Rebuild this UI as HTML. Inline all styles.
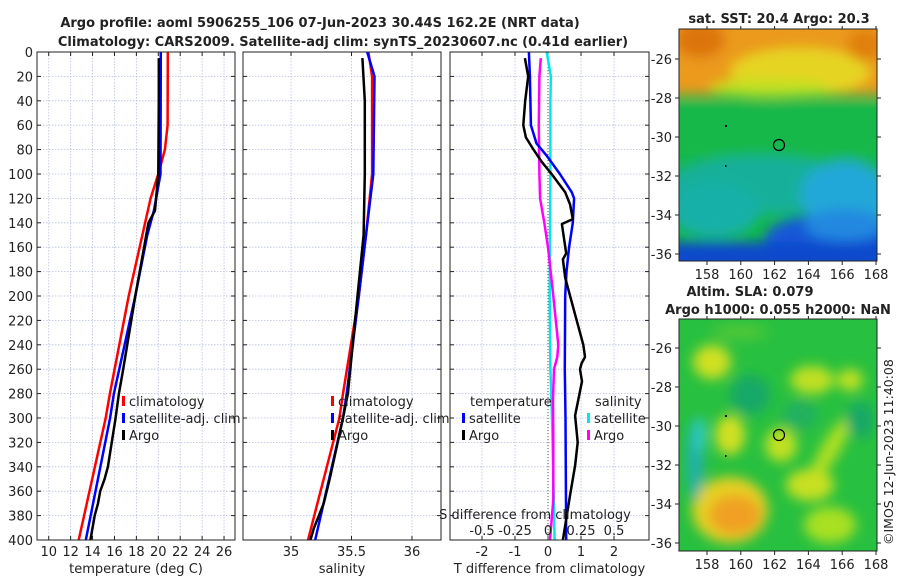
<!DOCTYPE html>
<html><head><meta charset="utf-8"><style>
body{margin:0;background:#fff;width:900px;height:580px;overflow:hidden;font-family:"DejaVu Sans","Liberation Sans",sans-serif;}
svg text{font-family:"DejaVu Sans","Liberation Sans",sans-serif;fill:#222;}
</style></head><body>
<svg id="fig" width="900" height="580" xmlns="http://www.w3.org/2000/svg">
<defs>
<filter id="blur1" x="-20%" y="-20%" width="140%" height="140%"><feGaussianBlur stdDeviation="6"/></filter>
<filter id="blur2" x="-20%" y="-20%" width="140%" height="140%"><feGaussianBlur stdDeviation="6"/></filter>
<clipPath id="c1"><rect x="679" y="29" width="198" height="232"/></clipPath>
<clipPath id="c2"><rect x="679" y="319" width="198" height="232"/></clipPath>
</defs>
<text x="320" y="27" font-size="13" font-weight="bold" text-anchor="middle" fill="#000">Argo profile: aoml 5906255_106 07-Jun-2023 30.44S 162.2E (NRT data)</text>
<text x="343" y="46" font-size="13" font-weight="bold" text-anchor="middle" fill="#000">Climatology: CARS2009. Satellite-adj clim: synTS_20230607.nc (0.41d earlier)</text>

<!-- map 1 -->
<g clip-path="url(#c1)">
<rect x="679" y="29" width="198" height="232" fill="#14b848"/>
<g filter="url(#blur1)">
<rect x="660" y="10" width="240" height="85" fill="#eb9a1c"/>
<ellipse cx="800" cy="72" rx="70" ry="24" fill="#e6d424"/>
<ellipse cx="770" cy="88" rx="60" ry="9" fill="#c0e020"/>
<ellipse cx="700" cy="40" rx="25" ry="18" fill="#dd7410"/>
<ellipse cx="865" cy="45" rx="18" ry="16" fill="#e08010"/>
<rect x="660" y="102" width="240" height="55" fill="#14b848"/>
<ellipse cx="760" cy="185" rx="95" ry="30" fill="#18b09a"/>
<ellipse cx="715" cy="210" rx="45" ry="28" fill="#18b0a8"/>
<ellipse cx="845" cy="195" rx="45" ry="35" fill="#20a8d8"/>
<ellipse cx="830" cy="238" rx="65" ry="24" fill="#1858d8"/>
<rect x="660" y="242" width="240" height="30" fill="#1048cc"/>
<ellipse cx="845" cy="225" rx="40" ry="16" fill="#2088e0"/>
</g>
<circle cx="779" cy="145" r="5.5" fill="none" stroke="#000" stroke-width="1.2"/>
<rect x="725" y="125" width="2" height="2" fill="#000"/><rect x="725" y="165" width="1.5" height="2" fill="#000"/>
</g>
<rect x="679" y="29" width="198" height="232" fill="none" stroke="#222" stroke-width="1"/>
<text x="779" y="23" font-size="13" font-weight="bold" text-anchor="middle" fill="#000">sat. SST: 20.4 Argo: 20.3</text>

<!-- map 2 -->
<g clip-path="url(#c2)">
<rect x="679" y="319" width="198" height="232" fill="#28c040"/>
<g filter="url(#blur2)">
<ellipse cx="712" cy="362" rx="19" ry="17" fill="#d0e020"/>
<ellipse cx="740" cy="332" rx="28" ry="8" fill="#50c838"/>
<ellipse cx="730" cy="435" rx="15" ry="20" fill="#d0e020"/>
<ellipse cx="781" cy="445" rx="16" ry="17" fill="#c0e020"/>
<ellipse cx="812" cy="380" rx="22" ry="14" fill="#c0e020"/>
<ellipse cx="850" cy="380" rx="13" ry="11" fill="#c0e020"/>
<ellipse cx="830" cy="450" rx="9" ry="38" fill="#b0e020" transform="rotate(30 830 450)"/>
<ellipse cx="810" cy="485" rx="24" ry="16" fill="#c8e020"/>
<ellipse cx="730" cy="510" rx="38" ry="33" fill="#e6d020"/>
<ellipse cx="735" cy="515" rx="26" ry="20" fill="#f0a020"/>
<ellipse cx="695" cy="460" rx="8" ry="40" fill="#20b0b0"/>
<ellipse cx="700" cy="435" rx="5" ry="18" fill="#30d0d0"/>
<ellipse cx="750" cy="395" rx="20" ry="20" fill="#18a868"/>
<ellipse cx="800" cy="415" rx="18" ry="14" fill="#20b060"/>
<ellipse cx="830" cy="525" rx="26" ry="18" fill="#a8e020"/>
<ellipse cx="860" cy="420" rx="14" ry="18" fill="#18a868"/>
</g>
<circle cx="779" cy="435" r="5.5" fill="none" stroke="#000" stroke-width="1.2"/>
<rect x="725" y="415" width="2" height="2" fill="#000"/><rect x="725" y="455" width="1.5" height="2" fill="#000"/>
</g>
<rect x="679" y="319" width="198" height="232" fill="none" stroke="#222" stroke-width="1"/>
<text x="750" y="296" font-size="13" font-weight="bold" text-anchor="middle" fill="#000">Altim. SLA: 0.079</text>
<text x="778" y="314" font-size="13" font-weight="bold" text-anchor="middle" fill="#000">Argo h1000: 0.055 h2000: NaN</text>
<text font-size="12.5" transform="translate(893,545) rotate(-90)">©IMOS 12-Jun-2023 11:40:08</text>

<g id="plots"></g>
</svg>
<script>
// ---- data ----
var tempDepths = [0, 60, 80, 100, 120, 200, 280, 300, 400];
var tempClim   = [20.87, 20.85, 20.6, 20.0, 19.3, 17.3, 15.58, 15.2, 12.74];
var tempSatDepths = [0, 100, 130, 150, 200, 280, 300, 400];
var tempSat    = [20.23, 20.2, 19.6, 19.0, 17.9, 15.95, 15.6, 13.38];
var argoDepths = [5, 40, 100, 130, 140, 160, 200, 260, 280, 300, 340, 350, 360, 370, 380, 400];
var argoTemp   = [20.05, 20.05, 20.0, 19.7, 19.1, 18.7, 17.9, 16.8, 16.4, 16.1, 15.4, 15.1, 14.7, 14.5, 14.2, 13.8];
var salClimDepths = [0, 20, 100, 150, 200, 280, 300, 400];
var salClim    = [35.64, 35.67, 35.67, 35.62, 35.56, 35.43, 35.40, 35.14];
var salSat     = [35.63, 35.69, 35.68, 35.62, 35.56, 35.46, 35.43, 35.20];
var argoSalDepths = [5, 40, 100, 150, 200, 280, 300, 350, 370, 390, 400];
var argoSal    = [35.59, 35.61, 35.61, 35.60, 35.55, 35.47, 35.43, 35.32, 35.27, 35.19, 35.16];
var dTSatDepths = [0, 20, 60, 75, 85, 100, 115, 120, 140, 160, 180, 200, 260, 300, 400];
var dTSat      = [-0.58, -0.55, -0.52, -0.35, -0.04, 0.36, 0.72, 0.79, 0.75, 0.64, 0.56, 0.52, 0.51, 0.53, 0.55];
var dTArgoDepths = [5, 20, 40, 60, 70, 80, 90, 100, 115, 125, 137, 141, 150, 165, 170, 185, 200, 220, 240, 250, 255, 260, 270, 298, 320, 339, 363, 388, 400];
var dTArgo     = [-0.7, -0.6, -0.69, -0.75, -0.67, -0.44, -0.19, 0.11, 0.52, 0.67, 0.75, 0.42, 0.47, 0.55, 0.45, 0.52, 0.67, 0.87, 1.07, 1.12, 1.02, 0.97, 1.03, 0.82, 0.9, 0.82, 0.67, 0.52, 0.45];
var dSArgoDepths = [5, 20, 60, 100, 120, 140, 160, 200, 240, 250, 260, 285, 320, 367, 400];
var dSArgo     = [-0.055, -0.065, -0.07, -0.065, -0.06, -0.028, 0.0, 0.04, 0.078, 0.07, 0.045, 0.038, 0.04, 0.04, 0.015];
var dSSatDepths = [0, 20, 40, 100, 200, 260, 300, 400];
var dSSat      = [-0.01, 0.022, 0.018, 0.018, 0.013, 0.018, 0.03, 0.05];
var depthTicks = [0,20,40,60,80,100,120,140,160,180,200,220,240,260,280,300,320,340,360,380,400];
var tempTicks = [10,12,14,16,18,20,22,24,26];
var salTicks = [35, 35.5, 36];
var dTTicks = [-2,-1,0,1,2];
var dSTickLabels = ["-0.5","-0.25","0","0.25","0.5"];
var dSTicks = [-0.5,-0.25,0,0.25,0.5];

var NS = "http://www.w3.org/2000/svg";
var root = document.getElementById('plots');
var TOP = 52, BOT = 540;
function yD(d){ return TOP + d/400*(BOT-TOP); }
function mk(tag, attrs, parent){ var e=document.createElementNS(NS,tag); for(var k in attrs) e.setAttribute(k,attrs[k]); (parent||root).appendChild(e); return e; }
function lin(d0,d1,p0,p1){ return function(v){ return p0+(v-d0)/(d1-d0)*(p1-p0); }; }

var panels = [
 {x0:37,x1:235,sx:lin(8.93,27.0,37,235),ticks:tempTicks,label:"temperature (deg C)",name:"temperature-panel",dep:true},
 {x0:243,x1:441,sx:lin(34.603,36.24,243,441),ticks:salTicks,label:"salinity",name:"salinity-panel"},
 {x0:450,x1:649,sx:lin(-2.97,3.06,450,649),ticks:dTTicks,label:"T difference from climatology",name:"difference-panel"}
];
panels.forEach(function(p){
  var g = mk('g',{});
  
  
  depthTicks.forEach(function(d){
    var gl = mk('line',{x1:p.x0,x2:p.x1,y1:yD(d),y2:yD(d),stroke:'#b8c0e0','stroke-width':0.8,'stroke-dasharray':'1.5,1.5'},g);
    
    
    mk('line',{x1:p.x0,x2:p.x0+4,y1:yD(d),y2:yD(d),stroke:'#222'},g);
    mk('line',{x1:p.x1-4,x2:p.x1,y1:yD(d),y2:yD(d),stroke:'#222'},g);
    if(p.dep){
      var t = mk('text',{x:p.x0-4,y:yD(d)+5,'font-size':13,'text-anchor':'end'},g);
      
      
      t.textContent = d;
    }
  });
  p.ticks.forEach(function(v){
    var x = p.sx(v);
    mk('line',{x1:x,x2:x,y1:TOP,y2:BOT,stroke:'#b8c0e0','stroke-width':0.8,'stroke-dasharray':'1.5,1.5'},g);
    mk('line',{x1:x,x2:x,y1:BOT,y2:BOT-4,stroke:'#222'},g);
    mk('line',{x1:x,x2:x,y1:TOP,y2:TOP+4,stroke:'#222'},g);
    var t = mk('text',{x:x,y:556,'font-size':13,'text-anchor':'middle'},g);
    
    
    t.textContent = v;
  });
  var xl = mk('text',{x:(p.x0+p.x1)/2,y:573,'font-size':13,'text-anchor':'middle'},g);
  
  
  xl.textContent = p.label;
  p.g = g;
});
function line(xs, ds, sx, color, w, name){
  var pts = xs.map(function(v,i){ return sx(v).toFixed(1)+','+yD(ds[i]).toFixed(1); }).join(' ');
  var e = mk('polyline',{points:pts,fill:'none',stroke:color,'stroke-width':w,'stroke-linejoin':'round'});
  
  
}
var sT = panels[0].sx, sS = panels[1].sx, sD = panels[2].sx;
function sDS(v){ return sD(v*4); }
mk('line',{x1:sD(0),x2:sD(0),y1:TOP,y2:BOT,stroke:'#555','stroke-width':1,'stroke-dasharray':'1,2'});
line(tempClim, tempDepths, sT, '#f00', 2.5, 'temp-climatology-line');
line(tempSat, tempSatDepths, sT, '#00f', 2.5, 'temp-satellite-line');
line(argoTemp, argoDepths, sT, '#000', 2.5, 'temp-argo-line');
line(salClim, salClimDepths, sS, '#f00', 2.5, 'sal-climatology-line');
line(salSat, salClimDepths, sS, '#00f', 2.5, 'sal-satellite-line');
line(argoSal, argoSalDepths, sS, '#000', 2.5, 'sal-argo-line');
line(dSSat, dSSatDepths, sDS, '#00e8e8', 2.5, 'sdiff-satellite-line');
line(dSArgo, dSArgoDepths, sDS, '#f0f', 2.5, 'sdiff-argo-line');
line(dTSat, dTSatDepths, sD, '#00f', 2.5, 'tdiff-satellite-line');
line(dTArgo, dTArgoDepths, sD, '#000', 2.5, 'tdiff-argo-line');
panels.forEach(function(p){
  var r = mk('rect',{x:p.x0,y:TOP,width:p.x1-p.x0,height:BOT-TOP,fill:'none',stroke:'#222','stroke-width':1});
  
  
});
var sl = mk('text',{x:535,y:519,'font-size':13,'text-anchor':'middle'});


sl.textContent = 'S difference from climatology';
dSTicks.forEach(function(v,i){
  var t = mk('text',{x:sDS(v),y:535,'font-size':13,'text-anchor':'middle'});
  
  
  t.textContent = dSTickLabels[i];
});
function legend(x,y,color,label,name){
  var g = mk('g',{});
  
  
  mk('rect',{x:x,y:y-10,width:3,height:10,fill:color},g);
  var t = mk('text',{x:x+7,y:y,'font-size':13},g);
  t.textContent = label;
}
legend(122,406,'#f00','climatology','legend-temp-climatology');
legend(122,423,'#00f','satellite-adj. clim','legend-temp-satellite');
legend(122,440,'#000','Argo','legend-temp-argo');
legend(331,406,'#f00','climatology','legend-sal-climatology');
legend(331,423,'#00f','satellite-adj. clim','legend-sal-satellite');
legend(331,440,'#000','Argo','legend-sal-argo');
var lt = mk('text',{x:470,y:406,'font-size':13});   lt.textContent='temperature';
var ls = mk('text',{x:595,y:406,'font-size':13});   ls.textContent='salinity';
legend(462,423,'#00f','satellite','legend-tdiff-satellite');
legend(462,440,'#000','Argo','legend-tdiff-argo');
legend(587,423,'#00e8e8','satellite','legend-sdiff-satellite');
legend(587,440,'#f0f','Argo','legend-sdiff-argo');
var lons=[158,160,162,164,166,168], lats=[-26,-28,-30,-32,-34,-36];
function lonX(v){ return 707 + (v-158)/10*169; }
[[29,261,59],[319,551,348]].forEach(function(m,mi){
  lons.forEach(function(v){
    var x=lonX(v);
    mk('line',{x1:x,x2:x,y1:m[1],y2:m[1]+4,stroke:'#222'});
    mk('line',{x1:x,x2:x,y1:m[0],y2:m[0]-3,stroke:'#222'});
    var t=mk('text',{x:x,y:m[1]+18,'font-size':13,'text-anchor':'middle'});
    
    
    t.textContent=v;
  });
  lats.forEach(function(v){
    var y=m[2]+(-26-v)/10*195;
    mk('line',{x1:679,x2:675,y1:y,y2:y,stroke:'#222'});
    mk('line',{x1:877,x2:881,y1:y,y2:y,stroke:'#222'});
    var t=mk('text',{x:672,y:y+5,'font-size':13,'text-anchor':'end'});
    
    
    t.textContent=v;
  });
});
</script>
</body></html>
